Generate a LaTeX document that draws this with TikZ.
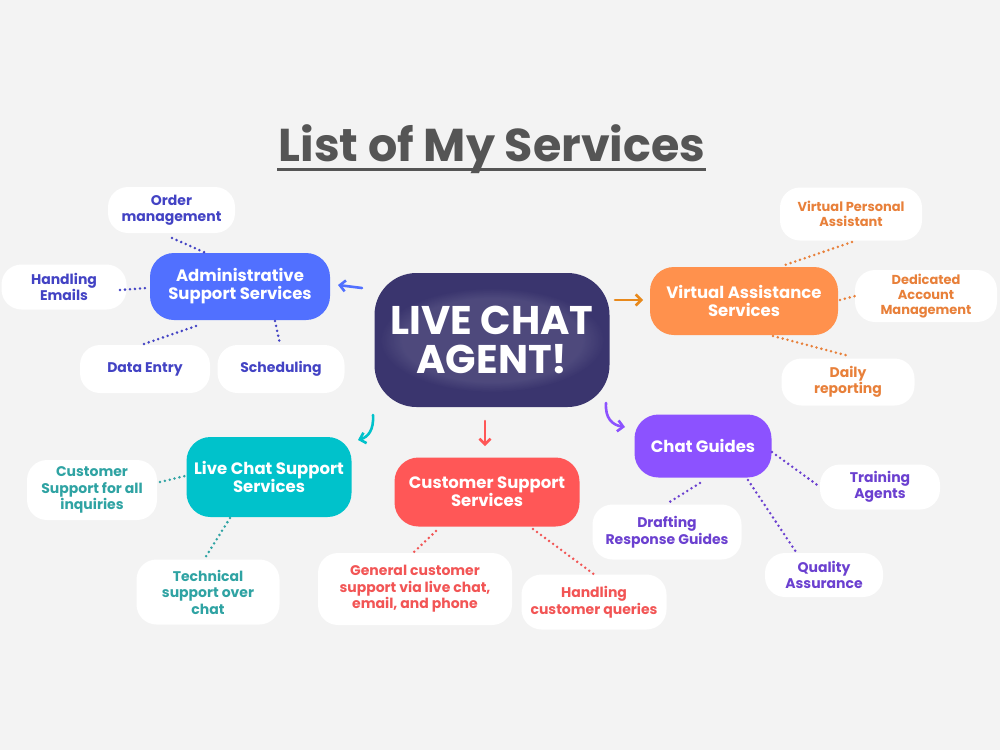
\documentclass[tikz,border=0pt]{standalone}
\usepackage{fontspec}
\setmainfont{Poppins}
\usetikzlibrary{arrows.meta,calc,fadings}
\definecolor{bg}{HTML}{F3F3F3}
\definecolor{titlec}{HTML}{555555}
\definecolor{navy}{HTML}{3A356E}
\definecolor{adm}{HTML}{5170FF}
\definecolor{admt}{HTML}{4343C4}
\definecolor{vas}{HTML}{FF914D}
\definecolor{vast}{HTML}{E8803A}
\definecolor{vasa}{HTML}{E8891C}
\definecolor{cg}{HTML}{8C52FF}
\definecolor{cgt}{HTML}{6B40D0}
\definecolor{css}{HTML}{FF5757}
\definecolor{csst}{HTML}{F25555}
\definecolor{lcs}{HTML}{00C2CB}
\definecolor{lcst}{HTML}{2FA3A3}
\tikzset{
  mainbox/.style={fill=#1, rounded corners=24pt, text=white, align=center,
    font=\fontsize{16.5}{18}\selectfont\bfseries, inner sep=0pt},
  subbox/.style={fill=white, rounded corners=20pt, text=#1, align=center,
    font=\fontsize{14}{16.5}\selectfont\bfseries, inner sep=0pt},
  dots/.style={draw=#1, line width=2.8pt, line cap=round, dash pattern=on 0pt off 5pt},
  arr/.style={draw=#1, line width=2.6pt, line cap=round,
    -{Straight Barb[length=5.5pt,width=11pt,line width=2.6pt]}},
}
\begin{document}
\begin{tikzpicture}[x=1pt,y=-1pt]
\fill[bg] (0,0) rectangle (1000,750);
\useasboundingbox (0,0) rectangle (1000,750);
% title
\node[text=titlec, font=\fontsize{46}{50}\selectfont\bfseries, inner sep=0pt] (title) at (492,149) {List of My Services};
\draw[titlec, line width=3pt] (277,169.5) -- (706,169.5);
% central
\node[fill=navy, rounded corners=42pt, minimum width=235pt, minimum height=134pt, inner sep=0pt] (center) at (492,340) {};
\fill[white, opacity=0.10, path fading=circle with fuzzy edge 20 percent] (center) ellipse (112pt and 52pt);
\node[text=white, align=center, font=\fontsize{40}{39}\selectfont\bfseries] (ctext) at (center) {LIVE CHAT\\AGENT!};
% Administrative
\node[mainbox=adm, minimum width=180pt, minimum height=67pt] (adm) at (240,286.5) {Administrative\\Support Services};
\node[subbox=admt, minimum width=127pt, minimum height=46pt] (order) at (171.5,210) {Order\\management};
\node[subbox=admt, minimum width=125pt, minimum height=45pt] (email) at (64,287) {Handling\\Emails};
\node[subbox=admt, minimum width=130pt, minimum height=48pt] (data) at (145,369) {Data Entry};
\node[subbox=admt, minimum width=127pt, minimum height=48pt] (sched) at (281,369) {Scheduling};
% Virtual assistance
\node[mainbox=vas, minimum width=188pt, minimum height=68pt] (vas) at (744,301) {Virtual Assistance\\Services};
\node[subbox=vast, minimum width=142pt, minimum height=53pt, font=\fontsize{13}{15}\selectfont\bfseries] (vpa) at (851,214) {Virtual Personal\\Assistant};
\node[subbox=vast, minimum width=142pt, minimum height=52pt, font=\fontsize{13}{15}\selectfont\bfseries] (dam) at (926,296) {Dedicated\\Account\\Management};
\node[subbox=vast, minimum width=133pt, minimum height=47pt] (daily) at (848,382) {Daily\\reporting};
% Chat guides
\node[mainbox=cg, minimum width=137pt, minimum height=63pt] (cg) at (703,446) {Chat Guides};
\node[subbox=cgt, minimum width=120pt, minimum height=45pt] (train) at (880,487) {Training\\Agents};
\node[subbox=cgt, minimum width=149pt, minimum height=55pt] (draft) at (667,532) {Drafting\\Response Guides};
\node[subbox=cgt, minimum width=118pt, minimum height=44pt] (qa) at (824,575) {Quality\\Assurance};
% Customer support
\node[mainbox=css, minimum width=185pt, minimum height=69pt] (css) at (487,492) {Customer Support\\Services};
\node[subbox=csst, minimum width=194pt, minimum height=72pt] (gen) at (415,589) {General customer\\support via live chat,\\email, and phone};
\node[subbox=csst, minimum width=145pt, minimum height=55pt] (hcq) at (594,602) {Handling\\customer queries};
% Live chat support
\node[mainbox=lcs, minimum width=165pt, minimum height=80pt] (lcs) at (269,477) {Live Chat Support\\Services};
\node[subbox=lcst, minimum width=130pt, minimum height=60pt] (all) at (92,490) {Customer\\Support for all\\inquiries};
\node[subbox=lcst, minimum width=143pt, minimum height=65pt] (tech) at (208,592) {Technical\\support over\\chat};
% dotted connector end points
\coordinate (a1) at (172,238); \coordinate (a2) at (206,253);
\coordinate (b1) at (120,290); \coordinate (b2) at (147,288);
\coordinate (c1) at (144,344); \coordinate (c2) at (196,326);
\coordinate (d1) at (275,321); \coordinate (d2) at (280,344);
\coordinate (e1) at (852,242); \coordinate (e2) at (782,266);
\coordinate (f1) at (840,300); \coordinate (f2) at (855,296);
\coordinate (g1) at (773,336); \coordinate (g2) at (849,356);
\coordinate (h1) at (772,452); \coordinate (h2) at (820,487);
\coordinate (i1) at (700,483); \coordinate (i2) at (668,503);
\coordinate (j1) at (748,480); \coordinate (j2) at (796,552);
\coordinate (k1) at (436,531); \coordinate (k2) at (414,552);
\coordinate (l1) at (533,529); \coordinate (l2) at (595,575);
\coordinate (m1) at (160,482); \coordinate (m2) at (185,476);
\coordinate (n1) at (230,518); \coordinate (n2) at (205,558);
\draw[dots=admt] (a1) -- (a2);
\draw[dots=admt] (b1) -- (b2);
\draw[dots=admt] (c1) -- (c2);
\draw[dots=admt] (d1) -- (d2);
\draw[dots=vast] (e1) -- (e2);
\draw[dots=vast] (f1) -- (f2);
\draw[dots=vast] (g1) -- (g2);
\draw[dots=cgt] (h1) -- (h2);
\draw[dots=cgt] (i1) -- (i2);
\draw[dots=cgt] (j1) -- (j2);
\draw[dots=csst] (k1) -- (k2);
\draw[dots=csst] (l1) -- (l2);
\draw[dots=lcst] (m1) -- (m2);
\draw[dots=lcst] (n1) -- (n2);
% arrows from the centre
\coordinate (p1) at (362,288); \coordinate (p2) at (338,285);
\coordinate (q1) at (615,300); \coordinate (q2) at (643,300);
\coordinate (r1) at (606,403); \coordinate (r2) at (625,427);
\coordinate (s1) at (485,421); \coordinate (s2) at (485,446);
\coordinate (t1) at (373,415); \coordinate (t2) at (358,440);
\draw[arr=adm] (p1) -- (p2);
\draw[arr=vasa] (q1) -- (q2);
\draw[arr=cg] (r1) .. controls (605,418) and (612,425) .. (r2);
\draw[arr=css] (s1) -- (s2);
\draw[arr=lcs] (t1) .. controls (374,430) and (368,437) .. (t2);
\end{tikzpicture}
\end{document}
